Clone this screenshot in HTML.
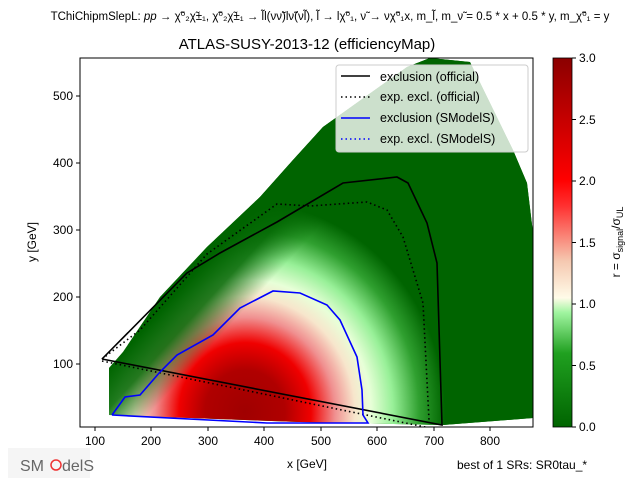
<!DOCTYPE html>
<html><head><style>
body{margin:0;background:#fff;}
svg text{font-family:"Liberation Sans","DejaVu Sans",sans-serif;fill:#000;}
</style></head><body>
<svg width="640" height="480" viewBox="0 0 640 480" xmlns="http://www.w3.org/2000/svg">
<defs>
<clipPath id="reg"><polygon points="109,368 123,352 160,297 207,247 260,197 293,160 323,127 337,117 407,67 430,58 470,62 513,150 527,183 533,233 533,418 443,425 300,422 109,415"/></clipPath>
<clipPath id="plot"><rect x="80" y="58" width="453" height="369"/></clipPath>
<radialGradient id="heat" cx="245" cy="412" r="200" gradientUnits="userSpaceOnUse" gradientTransform="translate(245 412) scale(1 1.05) translate(-245 -412)">
<stop offset="0" stop-color="#a00000"/>
<stop offset="0.2" stop-color="#b00000"/>
<stop offset="0.33" stop-color="#f00000"/>
<stop offset="0.45" stop-color="#f09090"/>
<stop offset="0.55" stop-color="#f7e6cc"/>
<stop offset="0.63" stop-color="#e8ffd8"/>
<stop offset="0.74" stop-color="#98f098"/>
<stop offset="0.87" stop-color="#30a030"/>
<stop offset="1" stop-color="#006400"/>
</radialGradient>
<linearGradient id="edge" gradientUnits="userSpaceOnUse" x1="200" y1="268" x2="245" y2="309">
<stop offset="0" stop-color="#006400" stop-opacity="1"/>
<stop offset="0.45" stop-color="#006400" stop-opacity="0.85"/>
<stop offset="1" stop-color="#006400" stop-opacity="0"/>
</linearGradient>
<linearGradient id="cb" x1="0" y1="1" x2="0" y2="0">
<stop offset="0" stop-color="#006400"/>
<stop offset="0.2" stop-color="#20a020"/>
<stop offset="0.31" stop-color="#a0f5a0"/>
<stop offset="0.35" stop-color="#fffbe8"/>
<stop offset="0.45" stop-color="#f5c8b0"/>
<stop offset="0.6" stop-color="#ff3030"/>
<stop offset="0.67" stop-color="#ff0000"/>
<stop offset="1" stop-color="#8b0000"/>
</linearGradient>
</defs>
<text x="330" y="20" font-size="11.5" text-anchor="middle">TChiChipmSlepL: <tspan font-style="italic">pp</tspan> → χ̃⁰₂χ̃±₁, χ̃⁰₂χ̃±₁ → l̃l(νν̃)lν̃(νl̃), l̃ → lχ̃⁰₁, ν̃ → νχ̃⁰₁x, m_l̃, m_ν̃ = 0.5 * x + 0.5 * y, m_χ̃⁰₁ = y</text>
<text x="307" y="49" font-size="15" text-anchor="middle">ATLAS-SUSY-2013-12 (efficiencyMap)</text>
<g clip-path="url(#plot)">
<g clip-path="url(#reg)">
<rect x="80" y="58" width="453" height="369" fill="#006400"/>
<rect x="80" y="58" width="453" height="369" fill="url(#heat)"/>
<rect x="80" y="58" width="453" height="369" fill="url(#edge)"/>
</g>
<polyline fill="none" stroke="#000" stroke-width="1.6" points="102,359 187,273 220,253 277,222 343,183 397,177 408,183 427,223 437,263 442,425 102,359"/>
<polyline fill="none" stroke="#000" stroke-width="1.6" stroke-dasharray="1.5,3" points="102,359 140,330 207,254 277,204 310,206 367,202 387,210 403,237 423,303 429,420"/>
<line x1="102" y1="361" x2="430" y2="428" stroke="#000" stroke-width="1.6" stroke-dasharray="1.5,3"/>
<polyline fill="none" stroke="#0000ff" stroke-width="1.6" points="112,415 125,397 140,395 160,372 177,355 213,335 240,308 273,291 300,293 327,305 340,320 357,357 362,390 363,415 368,423 267,423 112,415"/>
</g>
<rect x="80" y="58" width="453" height="369" fill="none" stroke="#000" stroke-width="1"/>
<g font-size="12" text-anchor="middle">
<g stroke="#000"><line x1="95" y1="427" x2="95" y2="431"/><line x1="151" y1="427" x2="151" y2="431"/><line x1="208" y1="427" x2="208" y2="431"/><line x1="264" y1="427" x2="264" y2="431"/><line x1="321" y1="427" x2="321" y2="431"/><line x1="377" y1="427" x2="377" y2="431"/><line x1="434" y1="427" x2="434" y2="431"/><line x1="490" y1="427" x2="490" y2="431"/></g>
<text x="95" y="445">100</text><text x="151" y="445">200</text><text x="208" y="445">300</text><text x="264" y="445">400</text><text x="321" y="445">500</text><text x="377" y="445">600</text><text x="434" y="445">700</text><text x="490" y="445">800</text>
<text x="307" y="468">x [GeV]</text>
</g>
<g font-size="12" text-anchor="end">
<g stroke="#000"><line x1="76" y1="364" x2="80" y2="364"/><line x1="76" y1="297" x2="80" y2="297"/><line x1="76" y1="230" x2="80" y2="230"/><line x1="76" y1="163" x2="80" y2="163"/><line x1="76" y1="96" x2="80" y2="96"/></g>
<text x="73" y="368">100</text><text x="73" y="301">200</text><text x="73" y="234">300</text><text x="73" y="167">400</text><text x="73" y="100">500</text>
</g>
<text x="0" y="0" font-size="12" text-anchor="middle" transform="translate(36 242) rotate(-90)">y [GeV]</text>
<rect x="336" y="65" width="192" height="87" rx="3" fill="#fff" fill-opacity="0.8" stroke="#ccc"/>
<g font-size="12.5">
<line x1="341" y1="76" x2="370" y2="76" stroke="#000" stroke-width="1.6"/><text x="380" y="81">exclusion (official)</text>
<line x1="341" y1="97" x2="370" y2="97" stroke="#000" stroke-width="1.6" stroke-dasharray="1.5,3"/><text x="380" y="101">exp. excl. (official)</text>
<line x1="341" y1="118" x2="370" y2="118" stroke="#00f" stroke-width="1.6"/><text x="380" y="122">exclusion (SModelS)</text>
<line x1="341" y1="139" x2="370" y2="139" stroke="#00f" stroke-width="1.6" stroke-dasharray="1.5,3"/><text x="380" y="143">exp. excl. (SModelS)</text>
</g>
<rect x="553" y="58" width="19" height="369" fill="url(#cb)" stroke="#000" stroke-width="0.8"/>
<g font-size="12">
<g stroke="#000"><line x1="572" y1="427" x2="576" y2="427"/><line x1="572" y1="365.5" x2="576" y2="365.5"/><line x1="572" y1="304" x2="576" y2="304"/><line x1="572" y1="242.5" x2="576" y2="242.5"/><line x1="572" y1="181" x2="576" y2="181"/><line x1="572" y1="119.5" x2="576" y2="119.5"/><line x1="572" y1="58" x2="576" y2="58"/></g>
<text x="579" y="431">0.0</text><text x="579" y="370">0.5</text><text x="579" y="308">1.0</text><text x="579" y="247">1.5</text><text x="579" y="185">2.0</text><text x="579" y="124">2.5</text><text x="579" y="62">3.0</text>
</g>
<text x="0" y="0" font-size="12" text-anchor="middle" transform="translate(620 242) rotate(-90)">r = σ<tspan font-size="9" dy="3">signal</tspan><tspan dy="-3">/σ</tspan><tspan font-size="9" dy="3">UL</tspan></text>
<text x="457" y="469" font-size="12">best of 1 SRs: SR0tau_*</text>
<rect x="8" y="448" width="82" height="30" fill="#eee" opacity="0.6"/>
<text x="20" y="471" font-size="16" style="fill:#666">SM</text><circle cx="56" cy="465" r="5" fill="none" stroke="#e33" stroke-width="1.5"/><text x="62" y="471" font-size="16" style="fill:#666">delS</text>
</svg>
</body></html>
